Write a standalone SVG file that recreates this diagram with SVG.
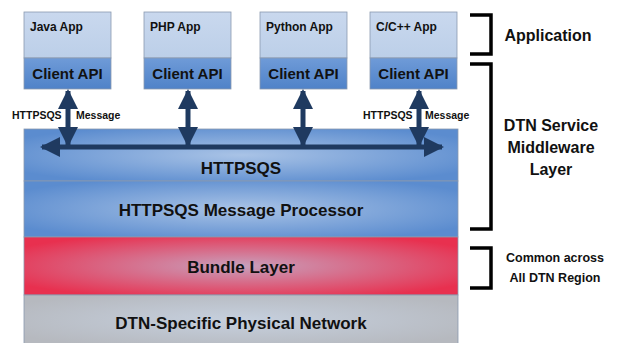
<svg xmlns="http://www.w3.org/2000/svg" width="622" height="343" viewBox="0 0 622 343">
<defs>
<linearGradient id="appTop" x1="0" y1="0" x2="0" y2="1"><stop offset="0" stop-color="#c9d8ee"/><stop offset="1" stop-color="#bccfe8"/></linearGradient>
<linearGradient id="api" x1="0" y1="0" x2="0" y2="1"><stop offset="0" stop-color="#6f9bd8"/><stop offset="1" stop-color="#4f82c8"/></linearGradient>
<radialGradient id="blue" cx="0.5" cy="0.5" r="0.6"><stop offset="0" stop-color="#a9c3e6"/><stop offset="1" stop-color="#5b8ccf"/></radialGradient>
<radialGradient id="red" cx="0.5" cy="0.5" r="0.6"><stop offset="0" stop-color="#c8a0bc"/><stop offset="1" stop-color="#e8304f"/></radialGradient>
<radialGradient id="gray" cx="0.5" cy="0.5" r="0.6"><stop offset="0" stop-color="#c6d0de"/><stop offset="1" stop-color="#b6b9bf"/></radialGradient>
<marker id="ah" viewBox="0 0 10 10" refX="9" refY="5" markerWidth="4" markerHeight="4" orient="auto-start-reverse"><path d="M0,0 L10,5 L0,10 z" fill="#1f3a60"/></marker>
</defs>
<style>
text{font-family:"Liberation Sans",Arial,sans-serif;font-weight:bold;fill:#111;}
.app{font-size:12px;}
.api{font-size:15px;text-anchor:middle;}
.big{font-size:17px;text-anchor:middle;}
.lab{font-size:10.5px;}
.side{font-size:16px;text-anchor:middle;}
.side2{font-size:12.5px;text-anchor:middle;}
.brk{fill:none;stroke:#000;stroke-width:3.5;}
.conn{stroke:#1f3a60;stroke-width:5;fill:none;}
.border{stroke:#8a9ab0;stroke-width:0.8;}
</style>

<g id="layer-httpsqs"><rect x="24" y="129" width="434" height="52" fill="url(#blue)" class="border"/><text class="big" x="241" y="174">HTTPSQS</text></g>
<g id="layer-processor"><rect x="24" y="181" width="434" height="56" fill="url(#blue)" class="border"/><text class="big" x="241" y="216">HTTPSQS Message Processor</text></g>
<g id="layer-bundle"><rect x="24" y="237" width="434" height="58" fill="url(#red)" class="border"/><text class="big" x="241" y="273">Bundle Layer</text></g>
<g id="layer-physical"><rect x="24" y="295" width="434" height="50" fill="url(#gray)" class="border"/><text class="big" x="241" y="329">DTN-Specific Physical Network</text></g>

<g id="app-java"><rect x="24" y="12" width="87" height="46" fill="url(#appTop)" class="border"/><rect x="24" y="58" width="87" height="31" fill="url(#api)" class="border"/><text class="app" x="30" y="31">Java App</text><text class="api" x="67.5" y="79">Client API</text></g>
<g id="app-php"><rect x="144" y="12" width="87" height="46" fill="url(#appTop)" class="border"/><rect x="144" y="58" width="87" height="31" fill="url(#api)" class="border"/><text class="app" x="150" y="31">PHP App</text><text class="api" x="187.5" y="79">Client API</text></g>
<g id="app-python"><rect x="260" y="12" width="87" height="46" fill="url(#appTop)" class="border"/><rect x="260" y="58" width="87" height="31" fill="url(#api)" class="border"/><text class="app" x="266" y="31">Python App</text><text class="api" x="303.5" y="79">Client API</text></g>
<g id="app-cpp"><rect x="370" y="12" width="87" height="46" fill="url(#appTop)" class="border"/><rect x="370" y="58" width="87" height="31" fill="url(#api)" class="border"/><text class="app" x="376" y="31">C/C++ App</text><text class="api" x="413.5" y="79">Client API</text></g>

<g id="connectors">
<line class="conn" x1="68" y1="91" x2="68" y2="145" marker-start="url(#ah)" marker-end="url(#ah)"/>
<line class="conn" x1="188" y1="91" x2="188" y2="145" marker-start="url(#ah)" marker-end="url(#ah)"/>
<line class="conn" x1="303" y1="91" x2="303" y2="145" marker-start="url(#ah)" marker-end="url(#ah)"/>
<line class="conn" x1="419" y1="91" x2="419" y2="145" marker-start="url(#ah)" marker-end="url(#ah)"/>
<line class="conn" x1="42" y1="147" x2="442" y2="147" marker-start="url(#ah)" marker-end="url(#ah)"/>
</g>

<g id="arrow-labels">
<text class="lab" x="12" y="119">HTTPSQS</text><text class="lab" x="76" y="119">Message</text>
<text class="lab" x="363" y="119">HTTPSQS</text><text class="lab" x="425" y="119">Message</text>
</g>

<g id="brackets">
<path class="brk" d="M470,15 H491 V54 H470"/>
<path class="brk" d="M470,64 H491 V229 H470"/>
<path class="brk" d="M470,248 H491 V288 H470"/>
</g>
<g id="side-labels">
<text class="side" x="548" y="41">Application</text>
<text class="side" x="551" y="131">DTN Service</text>
<text class="side" x="551" y="153">Middleware</text>
<text class="side" x="551" y="175">Layer</text>
<text class="side2" x="555" y="262">Common across</text>
<text class="side2" x="555" y="282">All DTN Region</text>
</g>
</svg>
